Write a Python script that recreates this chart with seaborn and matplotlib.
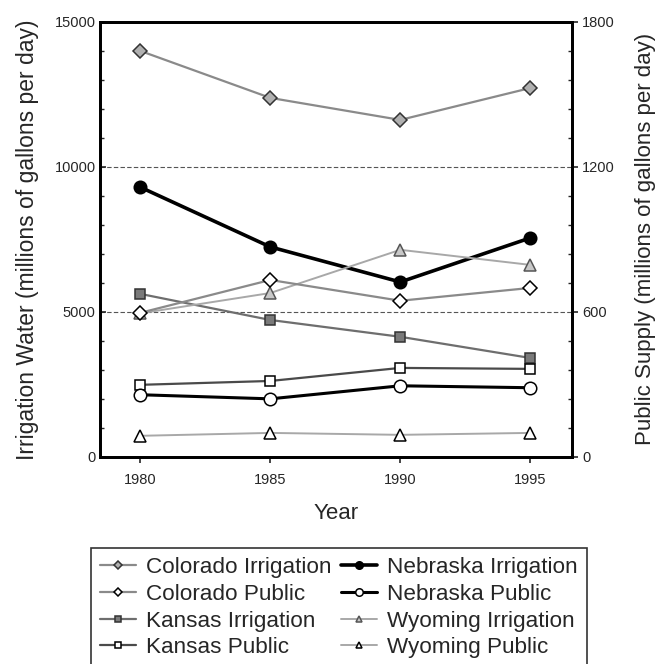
import matplotlib
matplotlib.use("Agg")
import matplotlib.pyplot as plt
import seaborn as sns
from matplotlib.ticker import MultipleLocator

years = [1980, 1985, 1990, 1995]

# irrigation water, left axis (millions of gallons per day)
colorado_irrigation = [14000, 12380, 11620, 12720]
nebraska_irrigation = [9300, 7240, 6030, 7550]
kansas_irrigation = [5620, 4720, 4140, 3410]
wyoming_irrigation = [4950, 5650, 7140, 6620]

# public supply, right axis (millions of gallons per day)
colorado_public = [596, 732, 646, 699]
nebraska_public = [257, 240, 294, 286]
kansas_public = [298, 314, 368, 364]
wyoming_public = [87, 99, 91, 99]

sns.set_style("ticks")
plt.rcParams['font.family'] = ['Liberation Sans', 'DejaVu Sans']

fig = plt.figure(figsize=(6.6, 6.64), dpi=100)
ax = fig.add_axes([0.1515, 0.312, 0.715, 0.655])
ax2 = ax.twinx()

# label, values, axis, line colour, line width, marker, face, edge, size
series = [
    ("Colorado Irrigation", colorado_irrigation, ax, "#8a8a8a", 1.6, "D", "#b0b0b0", "#333333", 7),
    ("Colorado Public", colorado_public, ax2, "#8a8a8a", 1.6, "D", "white", "black", 7),
    ("Kansas Irrigation", kansas_irrigation, ax, "#6e6e6e", 1.6, "s", "#7a7a7a", "#333333", 7.5),
    ("Kansas Public", kansas_public, ax2, "#4a4a4a", 1.6, "s", "white", "black", 7.5),
    ("Nebraska Irrigation", nebraska_irrigation, ax, "black", 2.6, "o", "black", "black", 9),
    ("Nebraska Public", nebraska_public, ax2, "black", 2.2, "o", "white", "black", 9),
    ("Wyoming Irrigation", wyoming_irrigation, ax, "#a8a8a8", 1.4, "^", "#c8c8c8", "#555555", 8),
    ("Wyoming Public", wyoming_public, ax2, "#a8a8a8", 1.4, "^", "white", "black", 8),
]

handles = []
for label, vals, a, color, lw, marker, mfc, mec, ms in series:
    sns.lineplot(x=years, y=vals, ax=a, color=color, linewidth=lw, marker=marker,
                 markersize=ms, markerfacecolor=mfc, markeredgecolor=mec,
                 markeredgewidth=1.1, label=label)
    handles.append(a.get_lines()[-1])

for a in (ax, ax2):
    if a.get_legend() is not None:
        a.get_legend().remove()

ax.set_xlim(1978.45, 1996.6)
ax.set_xticks(years)
ax.set_ylim(0, 15000)
ax.yaxis.set_major_locator(MultipleLocator(5000))
ax.yaxis.set_minor_locator(MultipleLocator(1000))
ax2.set_ylim(0, 1800)
ax2.yaxis.set_major_locator(MultipleLocator(600))
ax2.yaxis.set_minor_locator(MultipleLocator(120))

ax.yaxis.grid(True, which="major", linestyle=(0, (4, 2)), color="#555555", linewidth=0.8)
ax.set_axisbelow(True)

for a in (ax, ax2):
    for sp in a.spines.values():
        sp.set_visible(True)
        sp.set_linewidth(2)
        sp.set_color("black")

ax.tick_params(axis="x", which="major", direction="out", length=4.5, width=1.2, pad=7, labelsize=10.5)
ax.tick_params(axis="y", which="major", direction="in", length=4, width=1.2, pad=3, labelsize=10.5)
ax.tick_params(axis="y", which="minor", direction="in", length=3, width=1)
ax2.tick_params(axis="y", which="major", direction="out", length=4, width=1.2, labelsize=10.5)
ax2.tick_params(axis="y", which="minor", direction="in", length=3, width=1)

ax.set_xlabel("Year", fontsize=16, labelpad=12)
ax.set_ylabel("Irrigation Water (millions of gallons per day)", fontsize=16.5, labelpad=11)
ax2.set_ylabel("Public Supply (millions of gallons per day)", fontsize=16, labelpad=14)

leg = fig.legend(handles, [s[0] for s in series], ncol=2, loc="upper left",
                 bbox_to_anchor=(0.138, 0.175), frameon=True, fancybox=False,
                 edgecolor="black", fontsize=16.2, handlelength=1.6, handletextpad=0.43,
                 columnspacing=0.45, labelspacing=0.26, borderpad=0.4, borderaxespad=0,
                 markerscale=0.6)
leg.get_frame().set_linewidth(1.2)

fig.savefig("out.png", dpi=100)
